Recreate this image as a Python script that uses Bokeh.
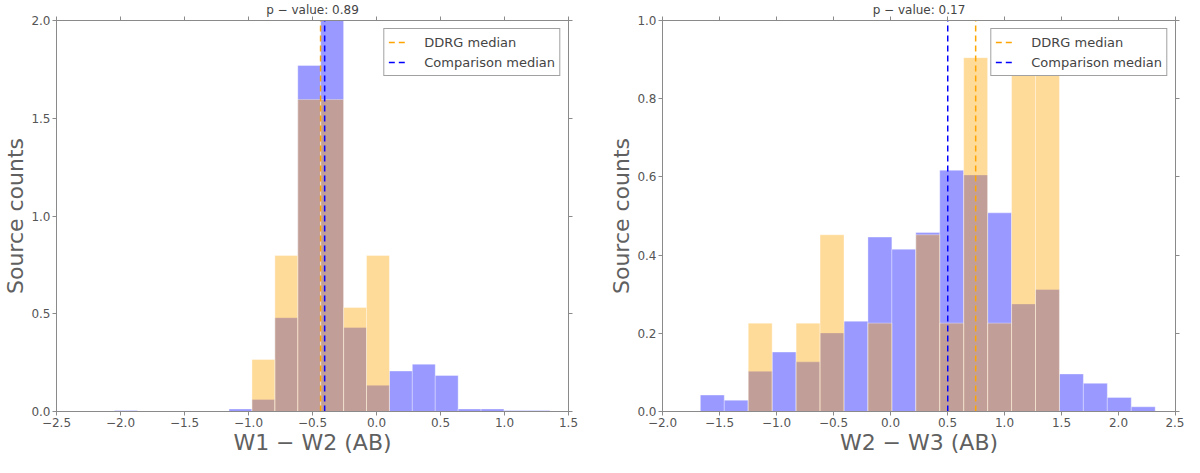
from bokeh.plotting import figure
from bokeh.layouts import row
from bokeh.models import Range1d, LinearAxis, FixedTicker, CustomJSTickFormatter, Legend
from bokeh.embed import file_html
from bokeh.resources import INLINE

# W1 - W2 histogram (normalised counts per bin)
w12_edges = [-2.047, -1.868, -1.689, -1.510, -1.331, -1.152, -0.973, -0.794, -0.615, -0.436,
             -0.257, -0.078, 0.101, 0.280, 0.459, 0.638, 0.817, 0.996, 1.175, 1.354]
w12_comp = [0.005, 0, 0, 0, 0, 0.013, 0.062, 0.48, 1.77, 2.2,
            0.43, 0.134, 0.207, 0.242, 0.184, 0.013, 0.013, 0.005, 0.005]
w12_ddrg = [0, 0, 0, 0, 0, 0, 0.266, 0.798, 1.596, 1.596,
            0.532, 0.798, 0, 0, 0, 0, 0, 0, 0]
w12_med_ddrg = -0.437
w12_med_comp = -0.405
w12_pval = "0.89"

# W2 - W3 histogram
w23_edges = [-1.668, -1.458, -1.248, -1.038, -0.828, -0.618, -0.408, -0.198, 0.012, 0.222,
             0.432, 0.642, 0.852, 1.062, 1.272, 1.482, 1.692, 1.902, 2.112, 2.322]
w23_comp = [0.042, 0.029, 0.103, 0.152, 0.127, 0.201, 0.231, 0.446, 0.415, 0.458,
            0.617, 0.605, 0.508, 0.275, 0.312, 0.096, 0.072, 0.036, 0.012]
w23_ddrg = [0, 0, 0.226, 0, 0.226, 0.452, 0, 0.226, 0, 0.452,
            0.226, 0.905, 0.226, 0.905, 0.905, 0, 0, 0, 0]
w23_med_ddrg = 0.747
w23_med_comp = 0.502
w23_pval = "0.17"

w12_xticks = [-2.5, -2.0, -1.5, -1.0, -0.5, 0.0, 0.5, 1.0, 1.5]
w12_yticks = [0.0, 0.5, 1.0, 1.5, 2.0]
w23_xticks = [-2.0, -1.5, -1.0, -0.5, 0.0, 0.5, 1.0, 1.5, 2.0, 2.5]
w23_yticks = [0.0, 0.2, 0.4, 0.6, 0.8, 1.0]

FONT = "DejaVu Sans"
SPINE = "#8a8a8a"
TICKTXT = "#555555"


def style_axis(ax, ticks, show_labels=True):
    ax.ticker = FixedTicker(ticks=ticks)
    ax.formatter = CustomJSTickFormatter(code="return tick.toFixed(1).replace('-', '\u2212')")
    ax.axis_line_color = SPINE
    ax.major_tick_line_color = SPINE
    ax.major_tick_in = 0
    ax.major_tick_out = 4
    ax.minor_tick_line_color = None
    ax.major_label_text_font = FONT
    ax.axis_label_text_font = FONT
    ax.axis_label_text_color = "#606060"
    ax.axis_label_text_font_style = "normal"
    ax.axis_label_text_font_size = "22px"
    if show_labels:
        ax.major_label_text_color = TICKTXT
        ax.major_label_text_font_size = "12px"
        ax.major_label_standoff = 2
        ax.axis_label_standoff = 0
    else:
        # tick marks only, no labels drawn
        ax.major_label_text_color = None
        ax.major_label_text_font_size = "0px"
        ax.major_label_standoff = 0


def make_hist(edges, comp, ddrg, med_ddrg, med_comp, pval, xr, yr, xticks, yticks, xlabel,
              width, border_left, border_right):
    p = figure(width=width, height=457, x_range=Range1d(*xr), y_range=Range1d(*yr),
               output_backend="svg", toolbar_location=None,
               min_border_left=border_left, min_border_right=border_right,
               min_border_top=0, min_border_bottom=0)
    p.title.text = "p \u2212 value: " + pval
    p.title.text_font = FONT
    p.title.text_font_size = "12px"
    p.title.text_font_style = "normal"
    p.title.align = "center"
    p.title.standoff = 0
    p.title.offset = 0

    lefts = edges[:-1]
    rights = edges[1:]
    p.quad(left=lefts, right=rights, bottom=0, top=comp, fill_color="blue", fill_alpha=0.4,
           line_color="white", line_alpha=0.35, line_width=1)
    p.quad(left=lefts, right=rights, bottom=0, top=ddrg, fill_color="orange", fill_alpha=0.4,
           line_color="white", line_alpha=0.35, line_width=1)

    r1 = p.segment(x0=[med_ddrg], y0=[yr[0]], x1=[med_ddrg], y1=[yr[1]],
                   line_color="orange", line_width=1.5, line_dash="6 4")
    r2 = p.segment(x0=[med_comp], y0=[yr[0]], x1=[med_comp], y1=[yr[1]],
                   line_color="blue", line_width=1.5, line_dash="6 4")

    legend = Legend(items=[("DDRG median", [r1]), ("Comparison median", [r2])],
                    location="top_right")
    legend.label_text_font = FONT
    legend.label_text_font_size = "13px"
    legend.border_line_color = "#444444"
    legend.border_line_width = 1
    legend.background_fill_alpha = 1.0
    legend.margin = 8
    legend.padding = 4
    legend.spacing = 2
    legend.glyph_width = 20
    legend.label_standoff = 16
    legend.label_height = 18
    legend.glyph_height = 18
    p.add_layout(legend)

    p.xgrid.grid_line_color = None
    p.ygrid.grid_line_color = None
    p.outline_line_color = SPINE

    style_axis(p.xaxis[0], xticks)
    style_axis(p.yaxis[0], yticks)
    p.xaxis.axis_label = xlabel
    p.yaxis.axis_label = "Source counts"

    top = LinearAxis()
    style_axis(top, xticks, show_labels=False)
    p.add_layout(top, "above")
    right = LinearAxis()
    style_axis(right, yticks, show_labels=False)
    p.add_layout(right, "right")
    return p


p1 = make_hist(w12_edges, w12_comp, w12_ddrg, w12_med_ddrg, w12_med_comp, w12_pval,
               (-2.5, 1.5), (0, 2.0), w12_xticks, w12_yticks, "W1 \u2212 W2 (AB)",
               592, 53, 24)
p2 = make_hist(w23_edges, w23_comp, w23_ddrg, w23_med_ddrg, w23_med_comp, w23_pval,
               (-2.0, 2.5), (0, 1.0), w23_xticks, w23_yticks, "W2 \u2212 W3 (AB)",
               592, 70, 9)

layout = row(p1, p2)
open("out.html", "w").write(file_html(layout, INLINE))
